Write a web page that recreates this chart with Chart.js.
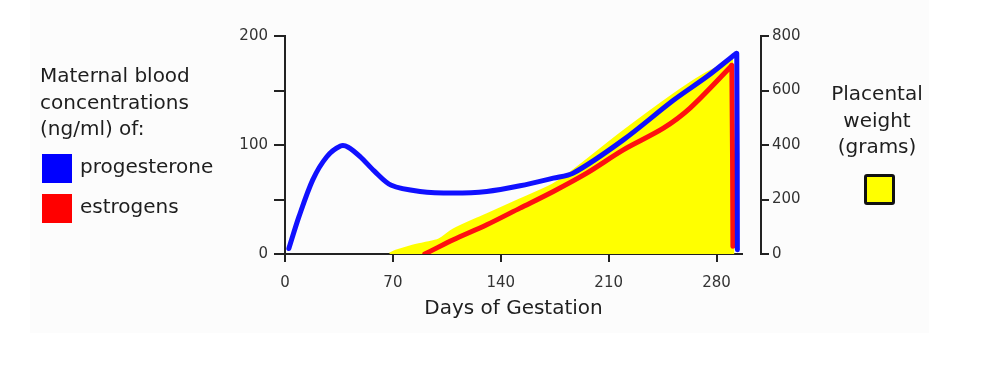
<!DOCTYPE html>
<html>
<head>
<meta charset="utf-8">
<script src="https://cdn.jsdelivr.net/npm/chart.js@4.4.1/dist/chart.umd.min.js"></script>
<style>
  html, body { margin: 0; padding: 0; background: #ffffff; }
  #wrap { position: relative; width: 988px; height: 368px; overflow: hidden; }
  #bg { position: absolute; left: 30px; top: 0; width: 899px; height: 333px; background: #fcfcfc; }
  canvas { position: absolute; left: 0; top: 0; }
  .txt { position: absolute; font-family: "DejaVu Sans", sans-serif; font-size: 20px; color: #1e1e1e; white-space: nowrap; }
  .sw { position: absolute; }
</style>
</head>
<body>
<div id="wrap">
  <div id="bg"></div>
  <canvas id="c" width="988" height="368"></canvas>
  <div class="txt" style="left:40px; top:62px; line-height:26.5px;">Maternal blood<br>concentrations<br>(ng/ml) of:</div>
  <div class="sw" style="left:42px; top:154px; width:30px; height:29px; background:#0000ff;"></div>
  <div class="txt" style="left:80px; top:156px; line-height:20px;">progesterone</div>
  <div class="sw" style="left:42px; top:194px; width:30px; height:29px; background:#ff0000;"></div>
  <div class="txt" style="left:80px; top:196px; line-height:20px;">estrogens</div>
  <div class="txt" style="left:827px; top:80px; width:100px; text-align:center; line-height:26.5px;">Placental<br>weight<br>(grams)</div>
  <div class="sw" style="left:864px; top:174px; width:25px; height:25px; background:#ffff00; border:3px solid #111; border-radius:3px;"></div>
</div>
<script>
// ---- Data ----
// Progesterone (ng/ml, left axis) vs days of gestation
const progDays   = [2.5, 9, 18, 27, 36, 41, 49, 58, 69, 87.6, 109.2, 130.9, 152.5, 174.1, 187, 219.5, 252, 274, 292.3, 293.1, 293.5];
const progValues = [5, 34, 68, 89, 99, 98, 89, 76, 63, 57.4, 55.9, 57.4, 62.6, 69.6, 74.2, 104.7, 141, 163, 183.5, 184, 4];

// Estrogens (ng/ml, left axis)
const estDays   = [90.7, 94.1, 109.2, 130.9, 152.5, 174.1, 195.8, 219.5, 245.5, 262.8, 289, 289.9, 290.6];
const estValues = [0, 2.4, 13.1, 26.8, 42.1, 57.4, 74.2, 95.5, 115.4, 133.8, 171.5, 173, 7];

// Placental weight (grams, right axis)
const placDays   = [68, 72, 80, 90, 100, 109.2, 130.9, 152.5, 174, 187, 219.5, 252, 272, 289, 289.8, 290.5];
const placGrams  = [0, 10, 24, 38, 52, 88, 144, 199, 254, 305, 449, 584, 658, 706, 712, 0];

// Axis ticks
const xTicks = [0, 70, 140, 210, 280];
const yLeftLabels = [0, 100, 200];
const yRightTicks = [0, 200, 400, 600, 800];

const toPts = (xs, ys) => xs.map((x, i) => ({ x: x, y: ys[i] }));

const tickFont = { family: "DejaVu Sans", size: 15 };
const axisColor = '#222222';
const tickColor = '#333333';

new Chart(document.getElementById('c'), {
  type: 'line',
  data: {
    datasets: [
      {
        label: 'progesterone',
        data: toPts(progDays, progValues),
        yAxisID: 'y',
        borderColor: '#1010ff',
        borderWidth: 5,
        pointRadius: 0,
        tension: 0.3,
        borderCapStyle: 'round',
        borderJoinStyle: 'round',
        fill: false
      },
      {
        label: 'estrogens',
        data: toPts(estDays, estValues),
        yAxisID: 'y',
        borderColor: '#ff1010',
        borderWidth: 5,
        pointRadius: 0,
        tension: 0.3,
        borderCapStyle: 'round',
        borderJoinStyle: 'round',
        fill: false
      },
      {
        label: 'placental weight',
        data: toPts(placDays, placGrams),
        yAxisID: 'y2',
        borderColor: '#ffff00',
        backgroundColor: '#ffff00',
        borderWidth: 3,
        pointRadius: 0,
        tension: 0.3,
        fill: 'origin'
      }
    ]
  },
  options: {
    responsive: false,
    animation: false,
    devicePixelRatio: 1,
    layout: { padding: { left: 235, right: 177, top: 36, bottom: 44 } },
    plugins: { legend: { display: false }, tooltip: { enabled: false } },
    scales: {
      x: {
        type: 'linear',
        position: 'bottom',
        min: 0,
        max: 296.5,
        afterFit: s => { s.height = 70; },
        afterBuildTicks: s => { s.ticks = xTicks.map(v => ({ value: v })); },
        ticks: { font: tickFont, color: tickColor, padding: 12, maxRotation: 0, includeBounds: false },
        grid: { display: true, drawOnChartArea: false, drawTicks: true, tickLength: 8, color: axisColor, lineWidth: 2 },
        border: { display: true, color: axisColor, width: 2 },
        title: { display: true, text: 'Days of Gestation', color: '#1e1e1e',
                 font: { family: "DejaVu Sans", size: 20 }, padding: { top: 0, bottom: 3 } }
      },
      y: {
        type: 'linear',
        position: 'left',
        min: 0,
        max: 200,
        afterFit: s => { s.width = 50; },
        ticks: {
          stepSize: 50,
          font: tickFont, color: tickColor, padding: 6,
          callback: v => (yLeftLabels.includes(v) ? String(v) : '')
        },
        grid: { display: true, drawOnChartArea: false, drawTicks: true, tickLength: 11, color: axisColor, lineWidth: 2 },
        border: { display: true, color: axisColor, width: 2 }
      },
      gap: {
        type: 'linear',
        position: 'right',
        weight: 0,
        min: 0,
        max: 1,
        afterFit: s => { s.width = 19; },
        ticks: { display: false },
        grid: { display: false },
        border: { display: false }
      },
      y2: {
        type: 'linear',
        position: 'right',
        weight: 1,
        min: 0,
        max: 800,
        afterFit: s => { s.width = 50; },
        afterBuildTicks: s => { s.ticks = yRightTicks.map(v => ({ value: v })); },
        ticks: { font: tickFont, color: tickColor, padding: 3 },
        grid: { display: true, drawOnChartArea: false, drawTicks: true, tickLength: 8, color: axisColor, lineWidth: 2 },
        border: { display: true, color: axisColor, width: 2 }
      }
    }
  }
});
</script>
</body>
</html>
